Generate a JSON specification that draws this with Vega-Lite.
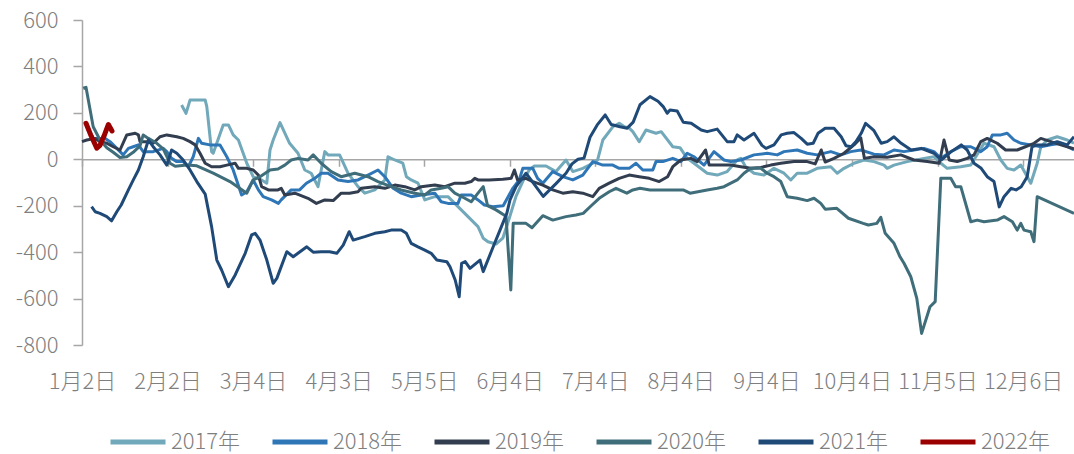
{
"$schema": "https://vega.github.io/schema/vega-lite/v6.json",
"width": 992, "height": 325,
"autosize": "none",
"padding": {"left": 82, "top": 20, "right": 0, "bottom": 109},
"background": "white",
"datasets": {
"y2017": [{"d":24.9,"v":234},{"d":26,"v":198},{"d":27,"v":255},{"d":30.8,"v":255},{"d":31.2,"v":227},{"d":32.4,"v":33},{"d":32.8,"v":26},{"d":35.3,"v":148},{"d":36.6,"v":148},{"d":37.8,"v":105},{"d":39.1,"v":83},{"d":41.2,"v":-17},{"d":42.8,"v":-75},{"d":44.9,"v":-89},{"d":46.2,"v":-103},{"d":47,"v":40},{"d":47.8,"v":83},{"d":49.5,"v":158},{"d":51.9,"v":69},{"d":54,"v":26},{"d":55.7,"v":-46},{"d":57.3,"v":-60},{"d":59,"v":-118},{"d":60.7,"v":33},{"d":61.5,"v":19},{"d":64.4,"v":19},{"d":66.5,"v":-60},{"d":69,"v":-118},{"d":70.7,"v":-146},{"d":73.2,"v":-132},{"d":75.7,"v":-89},{"d":76.5,"v":11},{"d":78.2,"v":-3},{"d":80.2,"v":-17},{"d":81.1,"v":-75},{"d":82.3,"v":-89},{"d":84,"v":-103},{"d":85.7,"v":-175},{"d":88.2,"v":-161},{"d":91.5,"v":-161},{"d":94,"v":-204},{"d":96.5,"v":-247},{"d":99,"v":-290},{"d":100.3,"v":-340},{"d":101.5,"v":-355},{"d":103.5,"v":-365},{"d":105.2,"v":-340},{"d":106.8,"v":-255},{"d":108.5,"v":-160},{"d":110.2,"v":-95},{"d":111.8,"v":-46},{"d":113.1,"v":-29},{"d":116,"v":-29},{"d":118.5,"v":-53},{"d":121,"v":-3},{"d":122.7,"v":-53},{"d":125.2,"v":-39},{"d":127.7,"v":-17},{"d":128.9,"v":-3},{"d":130.2,"v":83},{"d":132.7,"v":140},{"d":134.3,"v":155},{"d":135.6,"v":140},{"d":136.8,"v":134},{"d":137.7,"v":119},{"d":139.3,"v":76},{"d":141,"v":126},{"d":143.5,"v":112},{"d":144.8,"v":119},{"d":147.7,"v":54},{"d":149.5,"v":50},{"d":151.3,"v":4},{"d":153,"v":-17},{"d":156.3,"v":-60},{"d":158.8,"v":-68},{"d":161.3,"v":-53},{"d":163.8,"v":-3},{"d":164.7,"v":4},{"d":165.9,"v":-32},{"d":168,"v":-60},{"d":170.5,"v":-68},{"d":173,"v":-39},{"d":175.5,"v":-60},{"d":177.2,"v":-89},{"d":178.8,"v":-60},{"d":181.3,"v":-60},{"d":183.8,"v":-39},{"d":187.2,"v":-32},{"d":188.8,"v":-60},{"d":190.5,"v":-39},{"d":193,"v":-17},{"d":195.5,"v":-3},{"d":198,"v":-10},{"d":200.5,"v":-25},{"d":201.3,"v":-39},{"d":203,"v":-25},{"d":206.3,"v":-10},{"d":210.5,"v":4},{"d":213,"v":11},{"d":214.7,"v":-17},{"d":216.3,"v":-39},{"d":219.7,"v":-32},{"d":222.2,"v":-25},{"d":225.5,"v":69},{"d":228,"v":54},{"d":229.7,"v":-3},{"d":231.3,"v":-39},{"d":233,"v":-46},{"d":234.7,"v":-25},{"d":237.2,"v":-103},{"d":238.8,"v":-17},{"d":239.7,"v":54},{"d":241.3,"v":83},{"d":243.8,"v":97},{"d":246.3,"v":83},{"d":248,"v":69}],
"y2018": [{"d":0.8,"v":162},{"d":1.6,"v":126},{"d":2.8,"v":90},{"d":5.8,"v":90},{"d":7,"v":76},{"d":8.7,"v":47},{"d":10.3,"v":19},{"d":11.6,"v":47},{"d":12.8,"v":54},{"d":14.1,"v":62},{"d":15.3,"v":33},{"d":17.8,"v":33},{"d":20.3,"v":47},{"d":21.2,"v":33},{"d":22.4,"v":4},{"d":23.7,"v":-10},{"d":25.3,"v":-10},{"d":26.6,"v":-32},{"d":27.8,"v":11},{"d":29.1,"v":90},{"d":29.9,"v":69},{"d":32,"v":62},{"d":34.5,"v":62},{"d":36.2,"v":11},{"d":37.8,"v":-46},{"d":39.9,"v":-154},{"d":41.2,"v":-140},{"d":42.8,"v":-89},{"d":44.1,"v":-132},{"d":45.3,"v":-161},{"d":47.4,"v":-175},{"d":49.1,"v":-190},{"d":49.8,"v":-175},{"d":52.3,"v":-132},{"d":54.4,"v":-132},{"d":56.1,"v":-103},{"d":58.2,"v":-82},{"d":59.8,"v":-60},{"d":61.5,"v":-60},{"d":64,"v":-89},{"d":66.5,"v":-96},{"d":69,"v":-89},{"d":71.5,"v":-68},{"d":74,"v":-46},{"d":75.7,"v":-75},{"d":77.8,"v":-125},{"d":79.8,"v":-146},{"d":82.3,"v":-161},{"d":84.8,"v":-154},{"d":88.2,"v":-146},{"d":89.8,"v":-183},{"d":91.5,"v":-190},{"d":94,"v":-190},{"d":94.8,"v":-154},{"d":97.3,"v":-154},{"d":99,"v":-175},{"d":100.6,"v":-197},{"d":102.7,"v":-204},{"d":105.3,"v":-200},{"d":107.7,"v":-125},{"d":109.3,"v":-89},{"d":110.2,"v":-39},{"d":112.7,"v":-39},{"d":113.9,"v":-82},{"d":115.2,"v":-103},{"d":117.7,"v":-53},{"d":120.2,"v":-75},{"d":122.7,"v":-89},{"d":125.2,"v":-68},{"d":127.7,"v":-10},{"d":130.2,"v":-25},{"d":132.7,"v":-25},{"d":134.3,"v":-39},{"d":136.8,"v":-39},{"d":138.5,"v":-17},{"d":140.2,"v":-46},{"d":142.7,"v":-46},{"d":143.5,"v":-10},{"d":145.2,"v":-10},{"d":147.7,"v":4},{"d":149.7,"v":-10},{"d":151.3,"v":26},{"d":153,"v":11},{"d":155.5,"v":-25},{"d":158,"v":33},{"d":160.5,"v":-3},{"d":162.2,"v":-10},{"d":164.7,"v":-3},{"d":168,"v":19},{"d":171.3,"v":26},{"d":173.8,"v":19},{"d":175.5,"v":33},{"d":178.8,"v":40},{"d":181.3,"v":26},{"d":183.8,"v":19},{"d":187.2,"v":33},{"d":189.7,"v":19},{"d":192.2,"v":33},{"d":194.7,"v":40},{"d":198,"v":22},{"d":200.5,"v":19},{"d":203,"v":40},{"d":205.5,"v":33},{"d":208,"v":40},{"d":210.5,"v":47},{"d":213,"v":33},{"d":214.7,"v":4},{"d":217.2,"v":33},{"d":219.7,"v":54},{"d":222.2,"v":54},{"d":224.7,"v":33},{"d":226.3,"v":54},{"d":227.6,"v":105},{"d":229.7,"v":105},{"d":231.3,"v":112},{"d":233,"v":83},{"d":234.7,"v":69},{"d":237.2,"v":62},{"d":239.7,"v":54},{"d":242.2,"v":62},{"d":244.7,"v":69},{"d":248,"v":40}],
"y2019": [{"d":0,"v":76},{"d":1.2,"v":83},{"d":3.3,"v":90},{"d":4.5,"v":76},{"d":6.2,"v":69},{"d":7.8,"v":54},{"d":9.5,"v":40},{"d":11.2,"v":105},{"d":13.3,"v":112},{"d":14.1,"v":105},{"d":14.5,"v":76},{"d":16.2,"v":76},{"d":17.8,"v":69},{"d":19.5,"v":97},{"d":21.2,"v":105},{"d":23.7,"v":97},{"d":25.3,"v":90},{"d":27,"v":76},{"d":28.3,"v":62},{"d":29.5,"v":26},{"d":30.8,"v":-17},{"d":32.4,"v":-32},{"d":34.5,"v":-32},{"d":36.2,"v":-25},{"d":38.3,"v":-17},{"d":39.1,"v":-39},{"d":41.2,"v":-39},{"d":42.8,"v":-46},{"d":44.1,"v":-68},{"d":44.9,"v":-118},{"d":46.6,"v":-132},{"d":49,"v":-132},{"d":49.8,"v":-125},{"d":50.7,"v":-154},{"d":53.2,"v":-146},{"d":56.5,"v":-168},{"d":58.6,"v":-190},{"d":60.7,"v":-175},{"d":62.8,"v":-178},{"d":64.8,"v":-146},{"d":66.9,"v":-146},{"d":69,"v":-140},{"d":69.8,"v":-125},{"d":73.2,"v":-118},{"d":75.7,"v":-125},{"d":78.2,"v":-111},{"d":80.7,"v":-118},{"d":83.2,"v":-132},{"d":84.8,"v":-118},{"d":88.2,"v":-111},{"d":90.7,"v":-118},{"d":93.2,"v":-103},{"d":95.7,"v":-103},{"d":97.3,"v":-96},{"d":98.2,"v":-82},{"d":99,"v":-89},{"d":101.8,"v":-89},{"d":105.2,"v":-86},{"d":107.3,"v":-82},{"d":108.1,"v":-46},{"d":108.9,"v":-89},{"d":111,"v":-82},{"d":112.7,"v":-96},{"d":115.2,"v":-111},{"d":117.7,"v":-132},{"d":120.2,"v":-146},{"d":122.7,"v":-140},{"d":125.2,"v":-146},{"d":127.7,"v":-161},{"d":129.3,"v":-125},{"d":131.8,"v":-103},{"d":134.3,"v":-82},{"d":136.8,"v":-68},{"d":139.3,"v":-75},{"d":141.8,"v":-82},{"d":144.3,"v":-96},{"d":146.4,"v":-75},{"d":147.7,"v":-32},{"d":149.7,"v":-3},{"d":152.2,"v":4},{"d":153.8,"v":-10},{"d":155.9,"v":40},{"d":156.8,"v":-25},{"d":158.8,"v":-25},{"d":162.2,"v":-25},{"d":164.7,"v":-32},{"d":167.2,"v":-39},{"d":169.7,"v":-35},{"d":172.2,"v":-25},{"d":174.7,"v":-17},{"d":178,"v":-10},{"d":181.3,"v":-10},{"d":183.3,"v":-20},{"d":184.8,"v":40},{"d":185.8,"v":-12},{"d":188,"v":4},{"d":190.5,"v":26},{"d":193,"v":62},{"d":194.7,"v":92},{"d":195.6,"v":4},{"d":198,"v":11},{"d":201.3,"v":9},{"d":204.7,"v":19},{"d":208,"v":-3},{"d":211.3,"v":-10},{"d":214.3,"v":-17},{"d":215.5,"v":83},{"d":216.8,"v":-3},{"d":218.8,"v":-10},{"d":221.3,"v":4},{"d":223,"v":19},{"d":224.7,"v":76},{"d":226.3,"v":90},{"d":228.8,"v":69},{"d":230.9,"v":40},{"d":233.8,"v":40},{"d":238,"v":69},{"d":239.7,"v":90},{"d":242.2,"v":76},{"d":244.7,"v":62},{"d":248,"v":45}],
"y2020": [{"d":0.3,"v":306},{"d":1,"v":310},{"d":2.8,"v":140},{"d":4.5,"v":83},{"d":6.2,"v":50},{"d":7.8,"v":30},{"d":9.5,"v":8},{"d":11.2,"v":11},{"d":12.8,"v":30},{"d":14.5,"v":58},{"d":15.3,"v":105},{"d":16.6,"v":90},{"d":18.7,"v":69},{"d":20.3,"v":45},{"d":22,"v":-17},{"d":23.3,"v":-30},{"d":26.2,"v":-25},{"d":28.7,"v":-28},{"d":32.8,"v":-60},{"d":37,"v":-96},{"d":41.2,"v":-146},{"d":42.8,"v":-89},{"d":44.5,"v":-75},{"d":47,"v":-46},{"d":49,"v":-42},{"d":50.7,"v":-25},{"d":52.3,"v":-3},{"d":54,"v":4},{"d":56.5,"v":-3},{"d":57.8,"v":19},{"d":59.8,"v":-17},{"d":62.3,"v":-53},{"d":64.8,"v":-75},{"d":68.2,"v":-60},{"d":71.5,"v":-75},{"d":74,"v":-96},{"d":77.3,"v":-118},{"d":79.8,"v":-132},{"d":83.2,"v":-146},{"d":85.7,"v":-154},{"d":87.3,"v":-132},{"d":89.8,"v":-125},{"d":91.5,"v":-118},{"d":93.2,"v":-146},{"d":95.7,"v":-168},{"d":97.3,"v":-183},{"d":99,"v":-146},{"d":100.3,"v":-118},{"d":101.4,"v":-200},{"d":103.5,"v":-218},{"d":106,"v":-245},{"d":107.2,"v":-563},{"d":107.8,"v":-276},{"d":111,"v":-276},{"d":112.5,"v":-295},{"d":115.2,"v":-243},{"d":117.7,"v":-262},{"d":121,"v":-247},{"d":123.5,"v":-240},{"d":125.3,"v":-233},{"d":127.3,"v":-200},{"d":129.3,"v":-168},{"d":131.8,"v":-140},{"d":133.5,"v":-125},{"d":136.2,"v":-146},{"d":137.7,"v":-132},{"d":139.5,"v":-125},{"d":142,"v":-132},{"d":150.3,"v":-132},{"d":152,"v":-146},{"d":156.3,"v":-132},{"d":158.8,"v":-125},{"d":160.5,"v":-118},{"d":162.2,"v":-103},{"d":163.8,"v":-89},{"d":165.5,"v":-60},{"d":167.2,"v":-39},{"d":169.7,"v":-39},{"d":171.3,"v":-60},{"d":173,"v":-75},{"d":174.7,"v":-96},{"d":176.3,"v":-161},{"d":178.8,"v":-168},{"d":181.3,"v":-178},{"d":183,"v":-168},{"d":184.7,"v":-190},{"d":185.8,"v":-215},{"d":188.7,"v":-211},{"d":191.6,"v":-254},{"d":195.3,"v":-276},{"d":196.6,"v":-283},{"d":198.7,"v":-276},{"d":199.7,"v":-250},{"d":200.8,"v":-319},{"d":203,"v":-362},{"d":204.5,"v":-420},{"d":205.5,"v":-448},{"d":207.2,"v":-506},{"d":208.7,"v":-599},{"d":209.9,"v":-750},{"d":212,"v":-635},{"d":213.3,"v":-613},{"d":214.7,"v":-82},{"d":217.2,"v":-82},{"d":218.4,"v":-118},{"d":219.7,"v":-118},{"d":222.2,"v":-269},{"d":223.8,"v":-262},{"d":225.5,"v":-269},{"d":228.8,"v":-262},{"d":230.5,"v":-247},{"d":232.6,"v":-269},{"d":233.8,"v":-305},{"d":234.7,"v":-276},{"d":235.5,"v":-305},{"d":237.2,"v":-312},{"d":238,"v":-355},{"d":238.8,"v":-161},{"d":248,"v":-233}],
"y2021": [{"d":2.4,"v":-204},{"d":3.3,"v":-226},{"d":4.5,"v":-233},{"d":6.2,"v":-247},{"d":7.4,"v":-265},{"d":8.7,"v":-226},{"d":9.8,"v":-197},{"d":11.6,"v":-132},{"d":12.8,"v":-90},{"d":14.1,"v":-46},{"d":15.3,"v":11},{"d":16.6,"v":83},{"d":17.8,"v":54},{"d":19.5,"v":19},{"d":21.2,"v":-25},{"d":22.4,"v":40},{"d":23.7,"v":26},{"d":25.3,"v":-3},{"d":27,"v":-46},{"d":28.7,"v":-96},{"d":30.8,"v":-150},{"d":32.4,"v":-290},{"d":33.7,"v":-434},{"d":34.9,"v":-477},{"d":36.6,"v":-549},{"d":38.3,"v":-498},{"d":40.8,"v":-405},{"d":42.4,"v":-326},{"d":43.3,"v":-319},{"d":44.5,"v":-348},{"d":46.2,"v":-434},{"d":47.8,"v":-534},{"d":48.7,"v":-513},{"d":51.2,"v":-398},{"d":52.8,"v":-420},{"d":56.2,"v":-377},{"d":57.8,"v":-400},{"d":59.8,"v":-398},{"d":61.9,"v":-398},{"d":63.7,"v":-405},{"d":65.3,"v":-370},{"d":66.8,"v":-312},{"d":67.8,"v":-348},{"d":70.7,"v":-333},{"d":73.2,"v":-319},{"d":75.7,"v":-312},{"d":77.3,"v":-305},{"d":79.8,"v":-305},{"d":81.1,"v":-319},{"d":82.3,"v":-362},{"d":84,"v":-377},{"d":85.7,"v":-391},{"d":87.3,"v":-405},{"d":88.7,"v":-434},{"d":91.2,"v":-441},{"d":92,"v":-463},{"d":93.3,"v":-520},{"d":94.3,"v":-592},{"d":94.9,"v":-448},{"d":95.8,"v":-441},{"d":97,"v":-470},{"d":99.5,"v":-434},{"d":100.3,"v":-484},{"d":102.8,"v":-377},{"d":104.5,"v":-305},{"d":106.2,"v":-233},{"d":107,"v":-175},{"d":108.5,"v":-118},{"d":111,"v":-60},{"d":115.3,"v":-160},{"d":118.5,"v":-105},{"d":121,"v":-60},{"d":122.5,"v":-20},{"d":124,"v":0},{"d":125.5,"v":5},{"d":127,"v":95},{"d":128.8,"v":148},{"d":130.8,"v":191},{"d":132.3,"v":150},{"d":134.5,"v":140},{"d":136.3,"v":134},{"d":137.8,"v":160},{"d":139.5,"v":235},{"d":142,"v":270},{"d":144,"v":250},{"d":145.3,"v":227},{"d":146.3,"v":198},{"d":147,"v":212},{"d":148.8,"v":208},{"d":150.3,"v":160},{"d":152.3,"v":155},{"d":154.8,"v":126},{"d":156.3,"v":119},{"d":158.8,"v":130},{"d":161.3,"v":76},{"d":163,"v":76},{"d":163.8,"v":105},{"d":165.5,"v":83},{"d":168,"v":112},{"d":170,"v":60},{"d":171,"v":47},{"d":173,"v":62},{"d":174.8,"v":105},{"d":176.3,"v":112},{"d":178,"v":115},{"d":179.8,"v":90},{"d":181.3,"v":65},{"d":182.8,"v":69},{"d":184,"v":112},{"d":185.8,"v":134},{"d":188,"v":134},{"d":189.8,"v":97},{"d":191,"v":58},{"d":192.3,"v":54},{"d":193.5,"v":76},{"d":194.8,"v":112},{"d":195.9,"v":155},{"d":197.3,"v":134},{"d":198,"v":123},{"d":199.8,"v":69},{"d":201.3,"v":76},{"d":203,"v":97},{"d":204.8,"v":69},{"d":207.3,"v":40},{"d":209.8,"v":47},{"d":213,"v":26},{"d":214.8,"v":-3},{"d":217.3,"v":33},{"d":219.8,"v":62},{"d":221.3,"v":40},{"d":223,"v":-17},{"d":224.8,"v":-39},{"d":226.3,"v":-75},{"d":228,"v":-96},{"d":229.3,"v":-205},{"d":230.5,"v":-161},{"d":232.3,"v":-125},{"d":233.5,"v":-132},{"d":234.8,"v":-118},{"d":236.3,"v":-75},{"d":237.5,"v":54},{"d":238.8,"v":62},{"d":241.3,"v":62},{"d":243.8,"v":76},{"d":246.3,"v":62},{"d":248,"v":97}],
"y2022": [{"d":1,"v":155},{"d":2.3,"v":100},{"d":3.7,"v":48},{"d":4.5,"v":60},{"d":5.5,"v":100},{"d":6.6,"v":150},{"d":7.5,"v":122}]
},
"encoding": {
 "y": {"field": "v", "type": "quantitative", "scale": {"domain": [-800, 600], "nice": false, "zero": false},
   "axis": {"values": [-800, -600, -400, -200, 0, 200, 400, 600], "labelExpr": "'' + datum.value", "title": null, "grid": false, "domainColor": "#A6A6A6", "domainWidth": 1.5, "tickColor": "#A6A6A6", "tickWidth": 1.5, "tickSize": 9, "labelPadding": 15, "labelFontSize": 22, "labelColor": "#7F7F7F", "labelFontWeight": 300}},
 "color": {"scale": {"domain": ["2017年", "2018年", "2019年", "2020年", "2021年", "2022年"], "range": ["#71A8BA", "#2F76B7", "#323E4F", "#3F6E7A", "#1F4A78", "#9B0000"]}, "type": "nominal"}
},
"layer": [
 {"data": {"name": "y2017"}, "mark": {"type": "line", "strokeWidth": 3, "strokeJoin": "round"},
  "encoding": {"x": {"field": "d", "type": "quantitative", "scale": {"domain": [0, 248], "nice": false, "zero": false},
     "axis": {"orient": "bottom", "values": [0, 21.3875, 42.775, 64.1625, 85.55, 106.9375, 128.325, 149.7125, 171.1, 192.4875, 213.875, 235.2625], "labelExpr": "['1月2日','2月2日','3月4日','4月3日','5月5日','6月4日','7月4日','8月4日','9月4日','10月4日','11月5日','12月6日'][round(datum.value/21.3875)]", "domain": false, "ticks": false, "tickSize": 0, "grid": false, "title": null, "labelPadding": 26, "labelFontSize": 22, "labelColor": "#7F7F7F", "labelFontWeight": 300, "labelOverlap": false, "labelFlush": false}},
   "color": {"datum": "2017年"}}},
 {"data": {"name": "y2018"}, "mark": {"type": "line", "strokeWidth": 3, "strokeJoin": "round"},
  "encoding": {"x": {"field": "d", "type": "quantitative", "axis": null}, "color": {"datum": "2018年"}}},
 {"data": {"name": "y2019"}, "mark": {"type": "line", "strokeWidth": 3, "strokeJoin": "round"},
  "encoding": {"x": {"field": "d", "type": "quantitative", "axis": null}, "color": {"datum": "2019年"}}},
 {"data": {"name": "y2020"}, "mark": {"type": "line", "strokeWidth": 3, "strokeJoin": "round"},
  "encoding": {"x": {"field": "d", "type": "quantitative", "axis": null}, "color": {"datum": "2020年"}}},
 {"data": {"name": "y2021"}, "mark": {"type": "line", "strokeWidth": 3, "strokeJoin": "round"},
  "encoding": {"x": {"field": "d", "type": "quantitative", "axis": null}, "color": {"datum": "2021年"}}},
 {"data": {"name": "y2022"}, "mark": {"type": "line", "strokeWidth": 5, "strokeJoin": "round", "strokeCap": "round"},
  "encoding": {"x": {"field": "d", "type": "quantitative",
     "axis": {"orient": "bottom", "offset": -185.714, "values": [0, 21.3875, 42.775, 64.1625, 85.55, 106.9375, 128.325, 149.7125, 171.1, 192.4875, 213.875, 235.2625], "labels": false, "domain": true, "ticks": true, "tickSize": 7, "domainColor": "#A6A6A6", "domainWidth": 1.5, "tickColor": "#A6A6A6", "tickWidth": 1.5, "grid": false, "title": null}},
   "color": {"datum": "2022年"}}}
],
"resolve": {"axis": {"x": "independent"}},
"config": {
 "font": "Noto Sans CJK SC",
 "view": {"stroke": null},
 "legend": {"orient": "none", "legendX": 26, "legendY": 392, "direction": "horizontal", "title": null, "symbolType": "stroke", "symbolSize": 3025, "symbolStrokeWidth": 5, "labelFontSize": 22, "labelColor": "#7F7F7F", "labelFontWeight": 300, "labelOffset": 3, "columnPadding": 21, "labelLimit": 200}
}
}
